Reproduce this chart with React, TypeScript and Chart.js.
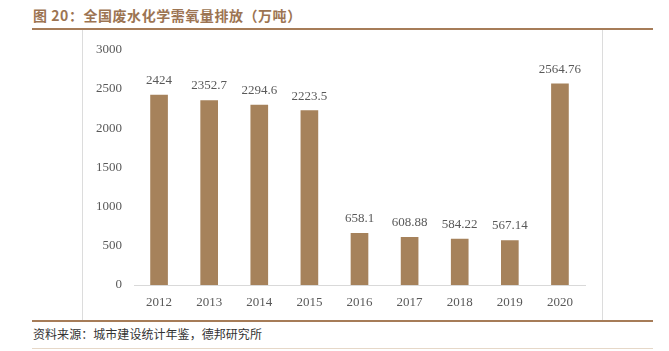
import React, { useEffect, useRef } from "react";
import { Chart, registerables } from "chart.js";

Chart.register(...registerables);

const categories = ["2012", "2013", "2014", "2015", "2016", "2017", "2018", "2019", "2020"];
const values = [2424, 2352.7, 2294.6, 2223.5, 658.1, 608.88, 584.22, 567.14, 2564.76];
const yTicks = [0, 500, 1000, 1500, 2000, 2500, 3000];
const titleText = "图 20：全国废水化学需氧量排放（万吨）";
const sourceText = "资料来源：城市建设统计年鉴，德邦研究所";

const SERIF = "'Liberation Serif', 'DejaVu Serif', serif";

const valueLabels = {
  id: "valueLabels",
  afterDatasetsDraw(chart: any) {
    const ctx = chart.ctx;
    const meta = chart.getDatasetMeta(0);
    ctx.save();
    ctx.font = `13px ${SERIF}`;
    ctx.fillStyle = "#595959";
    ctx.textAlign = "center";
    ctx.textBaseline = "bottom";
    meta.data.forEach((bar: any, i: number) => {
      ctx.fillText(String(values[i]), bar.x, bar.y - 8);
    });
    ctx.restore();
  },
};

export default function App() {
  const ref = useRef<HTMLCanvasElement | null>(null);
  useEffect(() => {
    if (!ref.current) return;
    const chart = new Chart(ref.current, {
      type: "bar",
      data: {
        labels: categories,
        datasets: [
          {
            data: values,
            backgroundColor: "#a6825b",
            borderWidth: 0,
            barThickness: 17,
          },
        ],
      },
      options: {
        animation: false,
        responsive: false,
        maintainAspectRatio: false,
        devicePixelRatio: 1,
        layout: { padding: { top: 18, right: 17, left: 0, bottom: 0 } },
        plugins: { legend: { display: false }, tooltip: { enabled: false } },
        scales: {
          x: {
            grid: { display: false, drawTicks: false },
            border: { display: true, color: "#d9d9d9", width: 1 },
            ticks: { color: "#595959", font: { family: SERIF, size: 13 }, padding: 10 },
            afterFit: (s: any) => { s.height = 35; },
          },
          y: {
            min: 0,
            max: 3000,
            afterBuildTicks: (s: any) => { s.ticks = yTicks.map((v) => ({ value: v })); },
            grid: { display: false, drawTicks: false },
            border: { display: false },
            ticks: {
              color: "#595959",
              font: { family: SERIF, size: 13 },
              padding: 12,
              callback: (v: any) => String(v),
            },
            afterFit: (s: any) => { s.width = 51; },
          },
        },
      },
      plugins: [valueLabels],
    });
    return () => chart.destroy();
  }, []);

  return (
    <div style={{ position: "absolute", left: 0, top: 0, width: 669, height: 351, background: "#fff", overflow: "hidden" }}>
      <div
        style={{
          position: "absolute",
          left: 33,
          top: 5,
          fontFamily: "'Noto Sans CJK SC', sans-serif",
          fontWeight: 700,
          fontSize: 14,
          letterSpacing: "0.55px",
          lineHeight: "20px",
          color: "#9c7452",
          whiteSpace: "nowrap",
        }}
      >
        {titleText}
      </div>
      <div style={{ position: "absolute", left: 32, top: 28, width: 621, height: 2, background: "#a67c58" }} />
      <div
        style={{
          position: "absolute",
          left: 82,
          top: 30,
          width: 519,
          height: 290,
          borderLeft: "1px solid #dcdcdc",
          borderRight: "1px solid #dcdcdc",
          boxSizing: "content-box",
        }}
      >
        <canvas ref={ref} width={519} height={290} style={{ display: "block", width: 519, height: 290 }} />
      </div>
      <div style={{ position: "absolute", left: 32, top: 320, width: 621, height: 2, background: "#a67c58" }} />
      <div
        style={{
          position: "absolute",
          left: 33,
          top: 325,
          fontFamily: "'Noto Sans CJK SC', sans-serif",
          fontSize: 12,
          letterSpacing: "0.05px",
          lineHeight: "18px",
          color: "#333",
          whiteSpace: "nowrap",
        }}
      >
        {sourceText}
      </div>
      <div style={{ position: "absolute", left: 32, top: 348, width: 621, height: 1, background: "#e6d8c8" }} />
    </div>
  );
}
